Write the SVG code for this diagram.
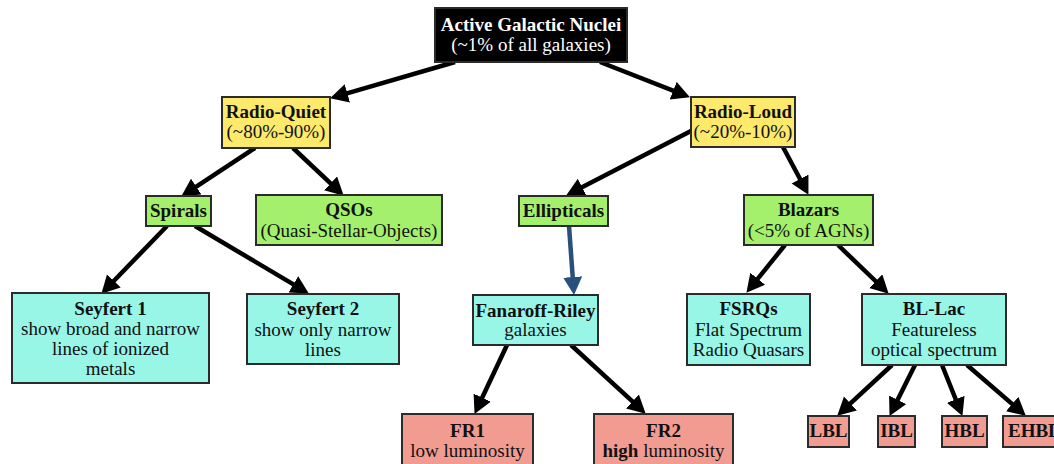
<svg xmlns="http://www.w3.org/2000/svg" width="1054" height="464" viewBox="0 0 1054 464">
  <style>
    text { font-family: "Liberation Serif", "Times New Roman", serif; font-size: 19px; fill: #111; text-anchor: middle; }
    .b { font-weight: bold; }
    .box { stroke: #2b2b2b; stroke-width: 2; }
    .root { fill: #000; }
    .root-t { fill: #fff; }
    .yellow { fill: #fde96c; }
    .green { fill: #a4f06c; }
    .cyan { fill: #98f6e7; }
    .salmon { fill: #f19b91; }
    .edge { stroke: #000; stroke-width: 4.5; fill: none; marker-end: url(#head); }
    .edge-blue { stroke: #27507d; stroke-width: 4.5; fill: none; marker-end: url(#head-blue); }
  </style>
  <defs>
    <marker id="head" markerUnits="userSpaceOnUse" markerWidth="20" markerHeight="20" refX="4" refY="9.5" orient="auto">
      <path d="M0,0 L18,9.5 L0,19 z" fill="#000"/>
    </marker>
    <marker id="head-blue" markerUnits="userSpaceOnUse" markerWidth="20" markerHeight="20" refX="4" refY="9.5" orient="auto">
      <path d="M0,0 L18,9.5 L0,19 z" fill="#27507d"/>
    </marker>
  </defs>

  <rect width="1054" height="464" fill="#fff"/>

  <!-- connectors -->
  <g id="connectors">
    <line class="edge" x1="455" y1="62" x2="343.5" y2="94.4"/>
    <line class="edge" x1="600" y1="62" x2="676.9" y2="92.2"/>
    <line class="edge" x1="255" y1="148" x2="192.9" y2="188.8"/>
    <line class="edge" x1="293" y1="148" x2="333.5" y2="186.1"/>
    <line class="edge" x1="691" y1="131" x2="578.6" y2="189"/>
    <line class="edge" x1="783" y1="147" x2="801.9" y2="182.5"/>
    <line class="edge" x1="167" y1="226" x2="111.1" y2="283.7"/>
    <line class="edge" x1="195" y1="226" x2="296.8" y2="286.4"/>
    <line class="edge-blue" x1="569" y1="226" x2="573" y2="281"/>
    <line class="edge" x1="507" y1="345" x2="480.5" y2="401.3"/>
    <line class="edge" x1="571" y1="345" x2="635.4" y2="404.2"/>
    <line class="edge" x1="785" y1="245" x2="755.2" y2="281.9"/>
    <line class="edge" x1="838" y1="245" x2="878.6" y2="284"/>
    <line class="edge" x1="892" y1="365" x2="847.5" y2="406.2"/>
    <line class="edge" x1="915" y1="365" x2="895.8" y2="403.4"/>
    <line class="edge" x1="942" y1="365" x2="957.2" y2="403"/>
    <line class="edge" x1="967" y1="365" x2="1015.2" y2="406.6"/>
  </g>

  <g id="agn">
    <rect class="box root" x="435" y="8" width="192" height="54"/>
    <text class="b root-t" x="531" y="31">Active Galactic Nuclei</text>
    <text class="root-t" x="531" y="51">(~1% of all galaxies)</text>
  </g>

  <g id="radio-quiet">
    <rect class="box yellow" x="222" y="97" width="108" height="51"/>
    <text class="b" x="276" y="118">Radio-Quiet</text>
    <text x="276" y="138">(~80%-90%)</text>
  </g>

  <g id="radio-loud">
    <rect class="box yellow" x="691" y="97" width="104" height="50"/>
    <text class="b" x="743" y="118">Radio-Loud</text>
    <text x="743" y="138">(~20%-10%)</text>
  </g>

  <g id="spirals">
    <rect class="box green" x="146" y="196" width="65" height="30"/>
    <text class="b" x="178.5" y="217">Spirals</text>
  </g>

  <g id="qsos">
    <rect class="box green" x="256" y="195" width="186" height="50"/>
    <text class="b" x="349" y="216">QSOs</text>
    <text x="349" y="237">(Quasi-Stellar-Objects)</text>
  </g>

  <g id="ellipticals">
    <rect class="box green" x="519" y="196" width="89" height="30"/>
    <text class="b" x="563.5" y="217">Ellipticals</text>
  </g>

  <g id="blazars">
    <rect class="box green" x="744" y="195" width="129" height="50"/>
    <text class="b" x="808.5" y="216">Blazars</text>
    <text x="808.5" y="237">(&lt;5% of AGNs)</text>
  </g>

  <g id="seyfert-1">
    <rect class="box cyan" x="12" y="293" width="197" height="90"/>
    <text class="b" x="110.5" y="315">Seyfert 1</text>
    <text x="110.5" y="335">show broad and narrow</text>
    <text x="110.5" y="355">lines of ionized</text>
    <text x="110.5" y="375">metals</text>
  </g>

  <g id="seyfert-2">
    <rect class="box cyan" x="247" y="294" width="152" height="70"/>
    <text class="b" x="323" y="315">Seyfert 2</text>
    <text x="323" y="336">show only narrow</text>
    <text x="323" y="356">lines</text>
  </g>

  <g id="fanaroff-riley">
    <rect class="box cyan" x="473" y="295" width="125" height="50"/>
    <text class="b" x="535.5" y="317">Fanaroff-Riley</text>
    <text x="535.5" y="336">galaxies</text>
  </g>

  <g id="fsrqs">
    <rect class="box cyan" x="687" y="294" width="123" height="71"/>
    <text class="b" x="748.5" y="315">FSRQs</text>
    <text x="748.5" y="336">Flat Spectrum</text>
    <text x="748.5" y="356">Radio Quasars</text>
  </g>

  <g id="bl-lac">
    <rect class="box cyan" x="862" y="294" width="144" height="71"/>
    <text class="b" x="934" y="315">BL-Lac</text>
    <text x="934" y="336">Featureless</text>
    <text x="934" y="356">optical spectrum</text>
  </g>

  <g id="fr1">
    <rect class="box salmon" x="402" y="414" width="131" height="60"/>
    <text class="b" x="467.5" y="437">FR1</text>
    <text x="467.5" y="457">low luminosity</text>
  </g>

  <g id="fr2">
    <rect class="box salmon" x="594" y="414" width="139" height="60"/>
    <text class="b" x="663.5" y="437">FR2</text>
    <text x="663.5" y="457"><tspan class="b">high</tspan> luminosity</text>
  </g>

  <g id="lbl">
    <rect class="box salmon" x="808" y="416" width="41" height="31"/>
    <text class="b" x="828.5" y="437">LBL</text>
  </g>

  <g id="ibl">
    <rect class="box salmon" x="878" y="416" width="37" height="31"/>
    <text class="b" x="896.5" y="437">IBL</text>
  </g>

  <g id="hbl">
    <rect class="box salmon" x="942" y="416" width="45" height="31"/>
    <text class="b" x="964.5" y="437">HBL</text>
  </g>

  <g id="ehbl">
    <rect class="box salmon" x="1003" y="416" width="60" height="31"/>
    <text class="b" x="1008" y="437" style="text-anchor: start">EHBL</text>
  </g>
</svg>
